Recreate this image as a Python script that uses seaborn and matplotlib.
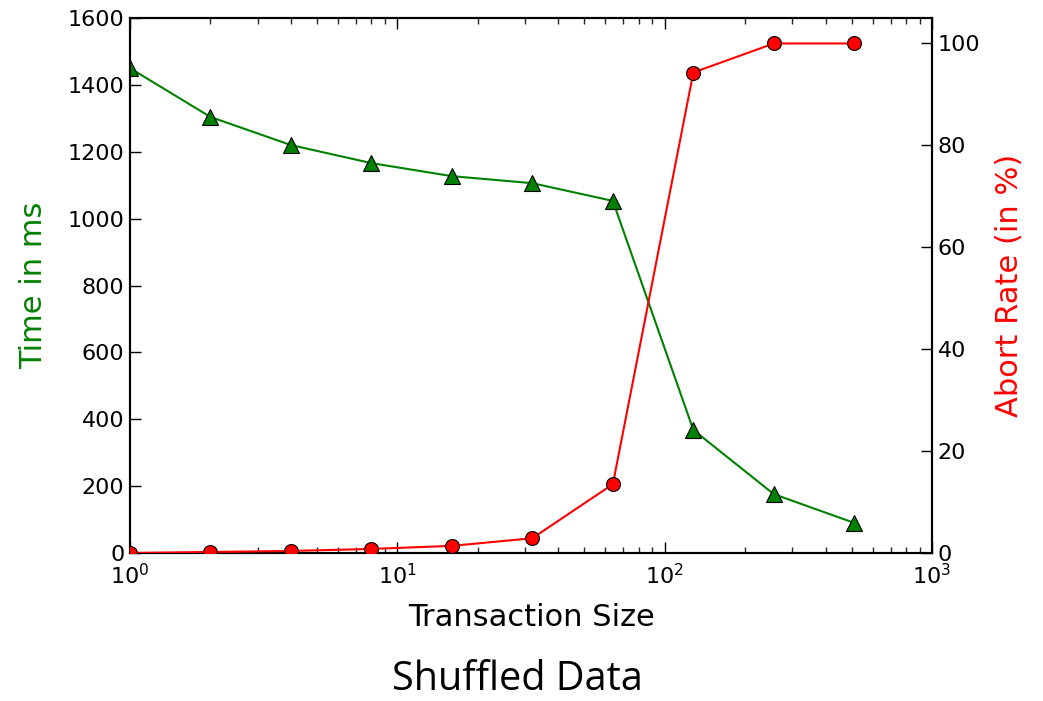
import matplotlib
matplotlib.use("Agg")
import matplotlib.pyplot as plt
import seaborn as sns
import pandas as pd

tx_size = [1, 2, 4, 8, 16, 32, 64, 128, 256, 512]
time_ms = [1450, 1304, 1220, 1166, 1127, 1106, 1053, 368, 176, 90]
abort_rate = [0.0, 0.2, 0.4, 0.8, 1.4, 2.9, 13.5, 94.3, 100, 100]

sns.set_style("white")
plt.rcParams['font.family'] = ['DejaVu Sans']

df = pd.DataFrame({"size": tx_size, "time": time_ms, "abort": abort_rate})

fig = plt.figure(figsize=(10.43, 7.01), dpi=100)
ax = fig.add_axes([130/1043, 1-553/701, (932-130)/1043, (553-18)/701])
ax2 = ax.twinx()

sns.lineplot(data=df, x="size", y="time", ax=ax, color="green", marker="^",
             markersize=11, markeredgecolor="black", markeredgewidth=0.8,
             linewidth=1.5, zorder=3)
sns.lineplot(data=df, x="size", y="abort", ax=ax2, color="red", marker="o",
             markersize=10, markeredgecolor="black", markeredgewidth=0.8,
             linewidth=1.5, zorder=3)

ax.set_xscale("log")
ax.set_xlim(1, 1000)
ax.set_ylim(0, 1600)
ax2.set_ylim(0, 105)
ax.set_yticks(range(0, 1601, 200))
ax2.set_yticks(range(0, 101, 20))

for a in (ax, ax2):
    for s in a.spines.values():
        s.set_linewidth(1.5)
        s.set_color("black")
    a.tick_params(which="major", direction="in", length=8, width=1, labelsize=16, colors="black", pad=4)
    a.tick_params(which="minor", direction="in", length=4, width=1)

ax.tick_params(axis="x", which="both", top=True, bottom=True, pad=7)
ax.tick_params(axis="y", which="both", left=True, right=False)
ax2.tick_params(axis="y", which="both", left=False, right=True)

ax.set_xlabel("Transaction Size", fontsize=22, color="black", labelpad=8)
ax.set_ylabel("Time in ms", fontsize=22, color="green", labelpad=10)
ax2.set_ylabel("Abort Rate (in %)", fontsize=22, color="red", labelpad=12)
ax.yaxis.set_label_coords(-(130-34)/(932-130), 0.5)
ax2.yaxis.set_label_coords(1+(1009-932)/(932-130), 0.5)
ax.xaxis.set_label_coords(0.5, -(617-553)/(553-18))
ax.xaxis.label.set_va("center")
ax.yaxis.label.set_va("center")
ax2.yaxis.label.set_va("center")

fig.text(517/1043, 1-680/701, "Shuffled Data", fontsize=28.5, family=["Open Sans", "DejaVu Sans"],
         ha="center", va="center", color="black")

fig.savefig("out.png", dpi=100, facecolor="white")
